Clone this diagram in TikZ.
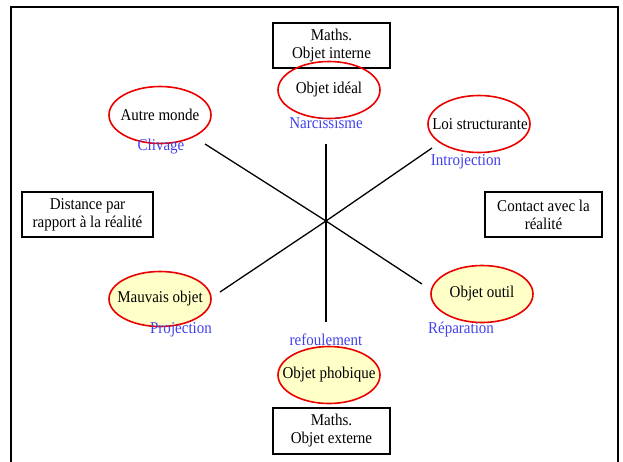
\documentclass[tikz,border=0pt]{standalone}
\usepackage{fontspec}
\setmainfont{Liberation Serif}[FakeStretch=0.91]
\usetikzlibrary{shapes.geometric}
\definecolor{oval}{RGB}{235,0,0}
\definecolor{paleyellow}{RGB}{255,255,200}
\definecolor{mechblue}{RGB}{65,65,235}
\tikzset{
  every node/.style={font=\fontsize{16.5}{18}\selectfont},
  oval/.style={ellipse, draw=oval, line width=1.6pt, inner sep=0pt,
    minimum width=102pt, minimum height=57pt},
  badoval/.style={oval, fill=paleyellow},
  realbox/.style={draw=black, line width=1.4pt, align=center, inner sep=0pt},
  mech/.style={text=mechblue, inner sep=0pt},
  lbl/.style={inner sep=0pt},
  axis/.style={line width=1.3pt, black}
}
\begin{document}
\begin{tikzpicture}[x=1pt, y=-1pt]
\useasboundingbox (0,0) rectangle (623,461);
% outer frame, open at the bottom
\draw[line width=2pt] (11,470) -- (11,7) -- (618,7) -- (618,470);

% boxes: mathematics and relation to reality
\node[realbox, minimum width=117pt, minimum height=45pt] (mi) at (331.5,45.5) {Maths.\\Objet interne};
\node[realbox, minimum width=117pt, minimum height=46pt] (me) at (331.5,431) {Maths.\\Objet externe};
\node[realbox, minimum width=131pt, minimum height=45pt] (dist) at (87.5,214.5) {Distance par\\rapport à la réalité};
\node[realbox, minimum width=117pt, minimum height=45pt] (cont) at (543.5,214.5) {Contact avec la\\réalité};

% objects: fixed-size ovals, names set on top
\node[oval] (ideal) at (329,90) {};
\node[oval] (autre) at (160,115) {};
\node[oval] (loi) at (479,124) {};
\node[badoval, minimum height=55pt] (mauvais) at (160,299) {};
\node[badoval] (outil) at (482,294) {};
\node[badoval] (phob) at (329,375) {};
\node[lbl] at (ideal) {Objet idéal};
\node[lbl] at (autre) {Autre monde};
\node[lbl] at ([xshift=1pt]loi.center) {Loi structurante};
\node[lbl] at (mauvais) {Mauvais objet};
\node[lbl] at (outil) {Objet outil};
\node[lbl] at (phob) {Objet phobique};

% mechanisms
\node[mech] (narc) at (326,123) {Narcissisme};
\node[mech] (cliv) at (161,147) {Clivage};
\node[mech] (intro) at (466,162) {Introjection};
\node[mech] (proj) at (181,330) {Projection};
\node[mech] (repa) at (461,330) {Réparation};
\node[mech] (refo) at (326,340) {refoulement};

% the three axes crossing at the centre
\coordinate (c) at (326,221);
\coordinate (nTop) at (326,144);
\coordinate (nBot) at (326,322);
\coordinate (nwEnd) at (205,144);
\coordinate (seEnd) at (422,284);
\coordinate (neEnd) at (432,148);
\coordinate (swEnd) at (220,292);
\draw[axis] (nTop) -- (c) -- (nBot);
\draw[axis] (nwEnd) -- (c) -- (seEnd);
\draw[axis] (neEnd) -- (c) -- (swEnd);
\end{tikzpicture}
\end{document}
